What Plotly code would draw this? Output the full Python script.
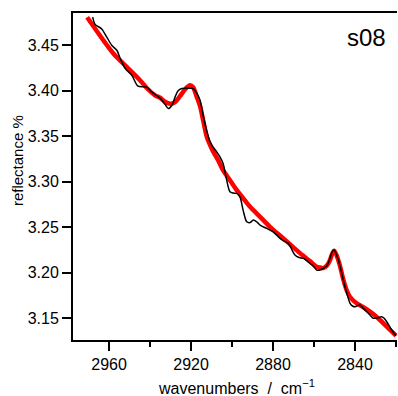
import plotly.graph_objects as go

# measured spectrum (black)
wn_data = [2968.0, 2966.8, 2963.6, 2961.1, 2958.7, 2956.2, 2954.6, 2952.2, 2948.9, 2945.9,
           2941.6, 2939.2, 2935.1, 2932.7, 2931.1, 2929.3, 2927.8, 2926.3, 2924.5, 2921.5,
           2918.9, 2917.2, 2915.6, 2914.1, 2912.3, 2910.7, 2909.3, 2907.5, 2905.9, 2904.4,
           2902.6, 2901.0, 2899.5, 2897.7, 2896.1, 2894.6, 2892.8, 2891.2, 2889.6, 2887.8,
           2886.3, 2883.1, 2881.5, 2879.9, 2876.6, 2874.6, 2872.5, 2870.7, 2869.3, 2867.3,
           2865.2, 2863.9, 2862.0, 2860.4, 2858.7, 2857.1, 2855.5, 2853.8, 2852.2, 2851.2,
           2850.2, 2849.3, 2848.1, 2846.8, 2845.7, 2843.9, 2842.4, 2841.2, 2840.0, 2837.6,
           2836.1, 2834.3, 2832.7, 2831.1, 2829.3, 2827.0, 2825.9, 2824.5, 2822.1, 2820.0]
refl_data = [3.481, 3.473, 3.468, 3.459, 3.450, 3.4445, 3.4357, 3.4247, 3.417, 3.405,
             3.404, 3.3987, 3.3918, 3.385, 3.3804, 3.384, 3.393, 3.400, 3.4024, 3.4027,
             3.4024, 3.3973, 3.3896, 3.373, 3.3555, 3.3437, 3.3382, 3.3327, 3.3273, 3.3203,
             3.3016, 3.2888, 3.2874, 3.287, 3.283, 3.2687, 3.2558, 3.255, 3.2577, 3.2555,
             3.2522, 3.2486, 3.2467, 3.2448, 3.2376, 3.2346, 3.2321, 3.2247, 3.2192, 3.2165,
             3.2156, 3.2137, 3.2101, 3.2071, 3.2027, 3.2027, 3.2046, 3.2071, 3.2156, 3.2225,
             3.2247, 3.2214, 3.2137, 3.2027, 3.1918, 3.1764, 3.1662, 3.1632, 3.1624, 3.1643,
             3.161, 3.1569, 3.1533, 3.1497, 3.150, 3.1514, 3.150, 3.1459, 3.1368, 3.1305]

# fitted curve (red)
wn_fit = [2970.7, 2958.0, 2951.4, 2944.9, 2941.5, 2937.6, 2935.1, 2932.7, 2930.2, 2927.8,
          2925.4, 2922.9, 2920.5, 2919.0, 2917.2, 2915.6, 2914.1, 2912.3, 2910.7, 2909.3,
          2906.8, 2904.4, 2901.0, 2897.7, 2894.6, 2891.2, 2886.3, 2881.5, 2875.1, 2870.2,
          2865.4, 2862.0, 2858.7, 2857.1, 2855.5, 2853.7, 2852.2, 2851.2, 2850.2, 2849.0,
          2847.3, 2845.9, 2844.1, 2842.4, 2839.2, 2836.1, 2831.1, 2827.8, 2824.5, 2820.0]
refl_fit = [3.4808, 3.4412, 3.4262, 3.4115, 3.4027, 3.395, 3.3923, 3.3879, 3.3857, 3.3874,
            3.394, 3.4016, 3.406, 3.4038, 3.3932, 3.383, 3.3676, 3.3492, 3.3401, 3.3335,
            3.3236, 3.3126, 3.3016, 3.2907, 3.2819, 3.2723, 3.2613, 3.2503, 3.2379, 3.228,
            3.2187, 3.2126, 3.2064, 3.2055, 3.2049, 3.2077, 3.2137, 3.2203, 3.224, 3.2192,
            3.2071, 3.194, 3.1808, 3.1731, 3.1662, 3.1621, 3.1544, 3.1478, 3.1404, 3.1305]

x_ticks = [2960, 2920, 2880, 2840]
y_ticks = [3.15, 3.20, 3.25, 3.30, 3.35, 3.40, 3.45]
y_tick_text = ["3.15", "3.20", "3.25", "3.30", "3.35", "3.40", "3.45"]

FONT = "Liberation Sans, Arial, sans-serif"

fig = go.Figure()
fig.add_trace(go.Scatter(x=wn_fit, y=refl_fit, mode="lines",
                         line=dict(color="#ff0000", width=4.5, shape="spline", smoothing=0.8),
                         showlegend=False))
fig.add_trace(go.Scatter(x=wn_data, y=refl_data, mode="lines",
                         line=dict(color="#000000", width=1.5, shape="spline", smoothing=0.8),
                         showlegend=False))

fig.update_layout(
    width=398, height=396,
    margin=dict(l=73, r=1, t=13, b=56),
    plot_bgcolor="white", paper_bgcolor="white",
    font=dict(family=FONT, color="black", size=16),
    xaxis=dict(range=[2977.6, 2819.5], tickvals=x_ticks, ticks="outside", ticklen=9,
               tickwidth=1.5, tickcolor="black", showline=True, linewidth=2, linecolor="black",
               mirror=True, showgrid=False, zeroline=False,
               tickfont=dict(size=16, family=FONT),
               minor=dict(dtick=20, tick0=2960, ticks="outside", ticklen=5, tickwidth=1.5,
                          tickcolor="black", showgrid=False)),
    yaxis=dict(range=[3.1258, 3.4855], tickvals=y_ticks, ticktext=y_tick_text,
               ticks="outside", ticklen=9, tickwidth=1.5, tickcolor="black",
               showline=True, linewidth=2, linecolor="black", mirror=False,
               showgrid=False, zeroline=False, tickfont=dict(size=16, family=FONT)),
    annotations=[
        dict(text="reflectance %", xref="paper", yref="paper", x=-0.173, y=0.55,
             textangle=-90, showarrow=False, font=dict(size=15, family=FONT),
             xanchor="center", yanchor="middle"),
        dict(text="wavenumbers&nbsp;&nbsp;/&nbsp;&nbsp;cm<sup>\u22121</sup>", xref="paper", yref="paper",
             x=0.506, y=-0.145, showarrow=False, font=dict(size=16, family=FONT),
             xanchor="center", yanchor="middle"),
        dict(text="s08", xref="paper", yref="paper", x=0.907, y=0.924, showarrow=False,
             font=dict(size=24, family=FONT), xanchor="center", yanchor="middle"),
    ],
)

fig.write_html("out.html")
